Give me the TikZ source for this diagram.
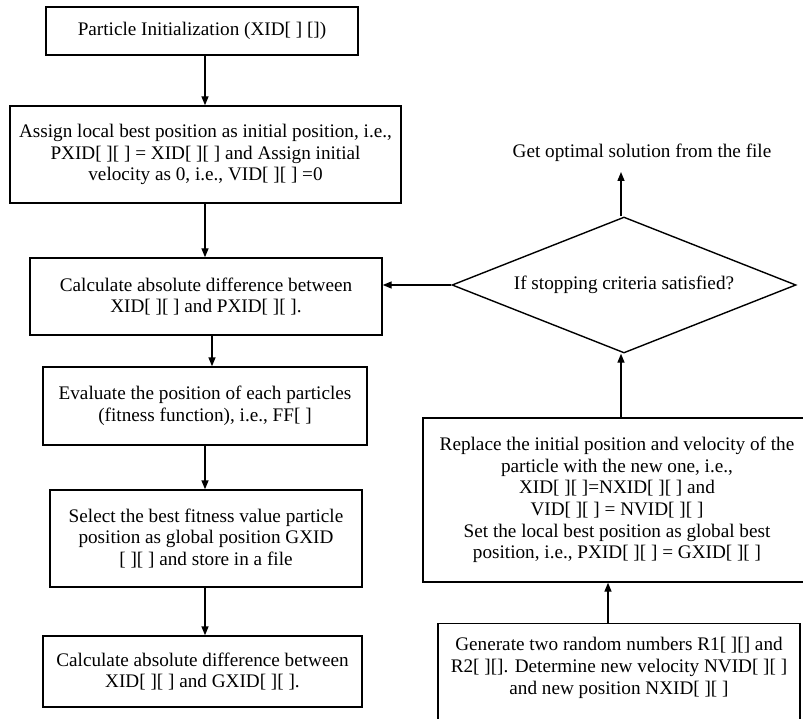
\documentclass[tikz,border=0pt]{standalone}
\usepackage{fontspec}
\setmainfont{Liberation Serif}
\usetikzlibrary{arrows.meta,shapes.geometric}
\begin{document}
\begin{tikzpicture}[x=1pt,y=-1pt,
  every node/.style={font=\fontsize{19.2}{21.7}\selectfont},
  box/.style={draw,line width=1.4pt,align=center,inner sep=0pt},
  arr/.style={line width=1.4pt,-{Triangle[length=9pt,width=7pt]}}]
\useasboundingbox (0,0) rectangle (803,719);
\clip (0,0) rectangle (803,719);
\node[box,minimum width=312pt,minimum height=48pt] (B1) at (202,31) {Particle Initialization (XID[ ] [])};
\node[box,minimum width=391pt,minimum height=97pt] (B2) at (205.5,154.5) {Assign local best position as initial position, i.e.,\\ PXID[ ][ ] = XID[ ][ ] and Assign initial\\ velocity as 0, i.e., VID[ ][ ] =0};
\node[box,minimum width=352pt,minimum height=77pt] (B3) at (206,296.5) {Calculate absolute difference between\\ XID[ ][ ] and PXID[ ][ ].};
\node[box,minimum width=324pt,minimum height=78pt] (B4) at (205,406) {Evaluate the position of each particles\\ (fitness function), i.e., FF[ ]};
\node[box,minimum width=312pt,minimum height=97pt] (B5) at (206,538.5) {Select the best fitness value particle\\ position as global position GXID\\{[ ][ ]} and store in a file};
\node[box,minimum width=319pt,minimum height=71pt] (B6) at (202.5,671.5) {Calculate absolute difference between\\ XID[ ][ ] and GXID[ ][ ].};
\node[draw,line width=1.4pt,diamond,aspect=2.53,minimum width=344pt,minimum height=136pt,inner sep=0pt] (D) at (624,285) {If stopping criteria satisfied?};
\node (opt) at (642,153) {Get optimal solution from the file};
\node[box,minimum width=388pt,minimum height=164pt] (R1) at (617,500) {Replace the initial position and velocity of the\\ particle with the new one, i.e.,\\ XID[ ][ ]=NXID[ ][ ] and\\ VID[ ][ ] = NVID[ ][ ]\\ Set the local best position as global best\\ position, i.e., PXID[ ][ ] = GXID[ ][ ]};
\node[box,minimum width=362pt,minimum height=100pt,anchor=north] (R2) at (619,623) {};
\node[align=center,anchor=north] (R2t) at (619,634) {Generate two random numbers R1[ ][] and\\ R2[ ][]. Determine new velocity NVID[ ][ ]\\ and new position NXID[ ][ ]};
\coordinate (c205) at (205,0);
\coordinate (c212) at (212,0);
\coordinate (c608) at (608,0);
\coordinate (c621) at (621,0);
\coordinate (optend) at (621,172);
\draw[arr] (B1.south -| c205) -- (B2.north -| c205);
\draw[arr] (B2.south -| c205) -- (B3.north -| c205);
\draw[arr] (B3.south -| c212) -- (B4.north -| c212);
\draw[arr] (B4.south -| c205) -- (B5.north -| c205);
\draw[arr] (B5.south -| c205) -- (B6.north -| c205);
\draw[arr] (D.west) -- (D.west -| B3.east);
\draw[arr] (D.north -| c621) -- (optend);
\draw[arr] (R1.north -| c621) -- (D.south -| c621);
\draw[arr] (R2.north -| c608) -- (R1.south -| c608);
\end{tikzpicture}
\end{document}
